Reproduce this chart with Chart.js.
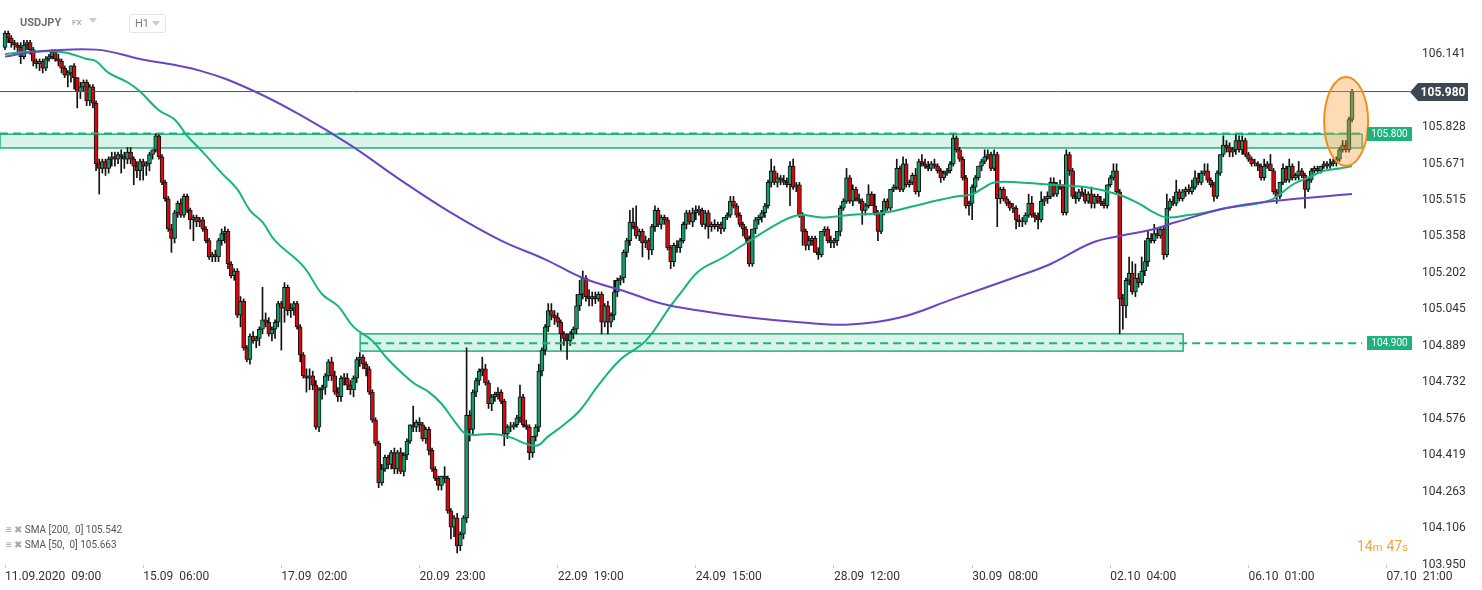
<!DOCTYPE html>
<html><head><meta charset="utf-8">
<script src="https://cdn.jsdelivr.net/npm/chart.js@4.4.0/dist/chart.umd.min.js"></script>
<style>
html,body{margin:0;padding:0;background:#fff;}
#wrap{position:relative;width:1482px;height:590px;overflow:hidden;font-family:Roboto,"Open Sans",sans-serif;}
#c{position:absolute;left:0;top:0;}
.ov{position:absolute;white-space:nowrap;pointer-events:none;line-height:1;}
</style></head><body>
<div id="wrap">
<canvas id="c" width="1482" height="590"></canvas>
<div class="ov" style="left:20px;top:17px;font-size:11px;font-weight:700;color:#6d7075;">USDJPY</div>
<div class="ov" style="left:72px;top:19px;font-size:8px;font-weight:700;color:#a8b2bc;">FX</div>
<div class="ov" style="left:89px;top:18px;width:0;height:0;border-left:4px solid transparent;border-right:4px solid transparent;border-top:5px solid #c8cdd2;"></div>
<div class="ov" style="left:129px;top:14px;width:35px;height:17px;border:1px solid #e2e5e9;border-radius:3px;"></div>
<div class="ov" style="left:135px;top:18px;font-size:11px;color:#7b7f84;">H1</div>
<div class="ov" style="left:152px;top:21px;width:0;height:0;border-left:4px solid transparent;border-right:4px solid transparent;border-top:5px solid #c8cdd2;"></div>
<div class="ov" style="left:6px;top:525px;font-size:10px;color:#555;"><span style="color:#999">&#8801;</span> <span style="color:#aaa">&#10006;</span> SMA [200,&nbsp; 0] 105.542</div>
<div class="ov" style="left:6px;top:540px;font-size:10px;color:#555;"><span style="color:#999">&#8801;</span> <span style="color:#aaa">&#10006;</span> SMA [50,&nbsp; 0] 105.663</div>
<div class="ov" style="left:1357px;top:538px;color:#f5a431;"><span style="font-size:14px">14</span><span style="font-size:11px">m</span> <span style="font-size:14px">47</span><span style="font-size:11px">s</span></div>
</div>
<script>
// ---- DATA ----
const xTickIdx = [0,44,88,132,176,220,264,308,352,396,440];
const xLabels = ["11.09.2020  09:00","15.09  06:00","17.09  02:00","20.09  23:00","22.09  19:00","24.09  15:00","28.09  12:00","30.09  08:00","02.10  04:00","06.10  01:00","07.10  21:00"];
const yTicks = [106.141,105.828,105.671,105.515,105.358,105.202,105.045,104.889,104.732,104.576,104.419,104.263,104.106,103.950];
const lastPrice = 105.980;
const levels = [105.800, 104.900];
const zoneFrom = [-1.6, 113.1];
const zoneTo = [432.2, 375.2];
const zoneHi = [105.797, 104.940];
const zoneLo = [105.738, 104.866];
// candles [open, high, low, close], H1
const candles = [
[106.17,106.24,106.16,106.23],[106.23,106.24,106.19,106.21],[106.21,106.22,106.17,106.19],[106.19,106.20,106.16,106.18],
[106.18,106.19,106.15,106.17],[106.17,106.19,106.10,106.13],[106.13,106.20,106.12,106.18],[106.18,106.20,106.16,106.19],
[106.19,106.20,106.14,106.16],[106.16,106.17,106.09,106.11],[106.11,106.12,106.08,106.10],[106.10,106.12,106.07,106.11],
[106.11,106.12,106.06,106.08],[106.08,106.13,106.07,106.12],[106.12,106.14,106.11,106.13],[106.13,106.16,106.12,106.15],
[106.15,106.16,106.11,106.12],[106.12,106.14,106.09,106.11],[106.11,106.12,106.06,106.08],[106.08,106.09,106.04,106.05],
[106.05,106.07,106.00,106.06],[106.06,106.09,106.02,106.09],[106.09,106.10,105.99,106.04],[106.04,106.04,105.91,105.98],
[105.98,106.02,105.95,106.00],[106.00,106.03,105.98,106.02],[106.02,106.03,105.92,105.94],[105.94,106.01,105.92,106.00],
[106.00,106.01,105.91,105.93],[105.93,105.94,105.64,105.67],[105.67,105.69,105.54,105.65],[105.65,105.69,105.63,105.68],
[105.68,105.69,105.62,105.65],[105.65,105.70,105.63,105.69],[105.69,105.72,105.66,105.70],[105.70,105.72,105.66,105.69],
[105.69,105.72,105.67,105.71],[105.71,105.73,105.63,105.70],[105.70,105.72,105.65,105.69],[105.69,105.74,105.67,105.72],
[105.72,105.74,105.67,105.69],[105.69,105.70,105.58,105.66],[105.66,105.68,105.61,105.64],[105.64,105.69,105.60,105.68],
[105.68,105.69,105.60,105.66],[105.66,105.68,105.62,105.67],[105.67,105.72,105.64,105.71],[105.71,105.73,105.69,105.73],
[105.73,105.80,105.72,105.79],[105.79,105.80,105.69,105.70],[105.70,105.71,105.58,105.59],[105.59,105.60,105.51,105.52],
[105.52,105.53,105.38,105.39],[105.39,105.41,105.29,105.35],[105.35,105.47,105.33,105.46],[105.46,105.51,105.44,105.50],
[105.50,105.52,105.44,105.45],[105.45,105.54,105.44,105.53],[105.53,105.54,105.46,105.47],[105.47,105.48,105.39,105.43],
[105.43,105.45,105.34,105.44],[105.44,105.45,105.40,105.42],[105.42,105.44,105.40,105.43],[105.43,105.44,105.38,105.39],
[105.39,105.40,105.33,105.34],[105.34,105.35,105.26,105.27],[105.27,105.29,105.25,105.28],[105.28,105.30,105.25,105.27],
[105.27,105.35,105.25,105.34],[105.34,105.39,105.32,105.37],[105.37,105.40,105.33,105.38],[105.38,105.39,105.22,105.24],
[105.24,105.25,105.18,105.19],[105.19,105.22,105.17,105.21],[105.21,105.22,105.01,105.02],[105.02,105.10,104.97,105.08],
[105.08,105.09,104.87,104.88],[104.88,104.89,104.82,104.83],[104.83,104.94,104.81,104.93],[104.93,104.95,104.90,104.91],
[104.91,104.93,104.88,104.92],[104.92,104.97,104.89,104.96],[104.96,105.14,104.94,105.00],[105.00,105.03,104.97,104.99],
[104.99,105.01,104.93,104.94],[104.94,104.97,104.91,104.96],[104.96,105.00,104.92,104.99],[104.99,105.08,104.97,105.07],
[105.07,105.08,104.87,105.05],[105.05,105.16,104.99,105.14],[105.14,105.15,105.02,105.04],[105.04,105.07,105.01,105.05],
[105.05,105.08,105.02,105.07],[105.07,105.08,104.96,104.97],[104.97,104.98,104.82,104.85],[104.85,104.86,104.75,104.76],
[104.76,104.79,104.69,104.75],[104.75,104.79,104.70,104.76],[104.76,104.78,104.70,104.72],[104.72,104.74,104.53,104.54],
[104.54,104.71,104.52,104.70],[104.70,104.72,104.66,104.71],[104.71,104.77,104.68,104.76],[104.76,104.83,104.74,104.82],
[104.82,104.84,104.74,104.76],[104.76,104.78,104.68,104.69],[104.69,104.71,104.65,104.67],[104.67,104.76,104.65,104.75],
[104.75,104.77,104.72,104.75],[104.75,104.77,104.70,104.72],[104.72,104.74,104.68,104.70],[104.70,104.76,104.67,104.75],
[104.75,104.84,104.73,104.83],[104.83,104.86,104.80,104.84],[104.84,104.85,104.79,104.81],[104.81,104.82,104.76,104.79],
[104.79,104.80,104.68,104.69],[104.69,104.70,104.56,104.57],[104.57,104.58,104.46,104.47],[104.47,104.48,104.28,104.30],
[104.30,104.38,104.29,104.36],[104.36,104.42,104.35,104.41],[104.41,104.42,104.36,104.38],[104.38,104.44,104.36,104.43],
[104.43,104.45,104.34,104.36],[104.36,104.44,104.34,104.43],[104.43,104.45,104.34,104.35],[104.35,104.43,104.33,104.42],
[104.42,104.49,104.40,104.48],[104.48,104.55,104.47,104.55],[104.55,104.63,104.52,104.54],[104.54,104.57,104.52,104.56],
[104.56,104.58,104.52,104.55],[104.55,104.56,104.48,104.49],[104.49,104.54,104.47,104.53],[104.53,104.54,104.42,104.44],
[104.44,104.45,104.35,104.36],[104.36,104.37,104.31,104.32],[104.32,104.33,104.27,104.29],[104.29,104.33,104.27,104.33],
[104.33,104.37,104.30,104.32],[104.32,104.33,104.17,104.18],[104.18,104.19,104.06,104.11],[104.11,104.16,104.07,104.15],
[104.15,104.17,104.00,104.03],[104.03,104.09,104.01,104.08],[104.08,104.16,104.06,104.15],[104.15,104.88,104.13,104.59],
[104.59,104.61,104.48,104.53],[104.53,104.70,104.51,104.69],[104.69,104.75,104.67,104.74],[104.74,104.79,104.72,104.78],
[104.78,104.84,104.76,104.79],[104.79,104.81,104.72,104.73],[104.73,104.74,104.62,104.64],[104.64,104.68,104.61,104.67],
[104.67,104.69,104.65,104.68],[104.68,104.71,104.66,104.69],[104.69,104.70,104.64,104.65],[104.65,104.66,104.46,104.51],
[104.51,104.55,104.49,104.54],[104.54,104.56,104.52,104.54],[104.54,104.56,104.53,104.55],[104.55,104.59,104.54,104.58],
[104.58,104.72,104.56,104.67],[104.67,104.68,104.54,104.55],[104.55,104.57,104.53,104.54],[104.54,104.55,104.40,104.43],
[104.43,104.50,104.41,104.50],[104.50,104.55,104.48,104.54],[104.54,104.81,104.52,104.78],[104.78,104.88,104.76,104.87],
[104.87,104.98,104.85,104.97],[104.97,105.07,104.95,105.04],[105.04,105.07,105.00,105.02],[105.02,105.04,104.98,105.01],
[105.01,105.03,104.97,104.99],[104.99,105.00,104.87,104.94],[104.94,104.95,104.89,104.92],[104.92,104.94,104.83,104.91],
[104.91,104.95,104.89,104.94],[104.94,104.97,104.92,104.96],[104.96,105.11,104.94,105.06],[105.06,105.17,105.04,105.11],
[105.11,105.21,105.09,105.18],[105.18,105.19,105.08,105.10],[105.10,105.13,105.06,105.09],[105.09,105.12,105.06,105.10],
[105.10,105.12,105.07,105.09],[105.09,105.12,105.08,105.11],[105.11,105.12,104.94,104.99],[104.99,105.07,104.97,105.06],
[105.06,105.08,104.94,104.99],[104.99,105.03,104.97,105.02],[105.02,105.17,105.00,105.12],[105.12,105.18,105.10,105.17],
[105.17,105.19,105.15,105.18],[105.18,105.30,105.16,105.29],[105.29,105.35,105.27,105.34],[105.34,105.47,105.32,105.42],
[105.42,105.48,105.39,105.40],[105.40,105.49,105.35,105.36],[105.36,105.39,105.34,105.38],[105.38,105.39,105.27,105.33],
[105.33,105.36,105.31,105.34],[105.34,105.35,105.26,105.30],[105.30,105.41,105.28,105.40],[105.40,105.49,105.38,105.47],
[105.47,105.48,105.40,105.41],[105.41,105.45,105.39,105.44],[105.44,105.45,105.41,105.43],[105.43,105.44,105.30,105.31],
[105.31,105.32,105.22,105.25],[105.25,105.33,105.23,105.32],[105.32,105.34,105.29,105.31],[105.31,105.35,105.29,105.34],
[105.34,105.42,105.33,105.41],[105.41,105.47,105.39,105.46],[105.46,105.47,105.41,105.42],[105.42,105.48,105.40,105.46],
[105.46,105.49,105.43,105.47],[105.47,105.49,105.45,105.47],[105.47,105.48,105.40,105.41],[105.41,105.47,105.39,105.46],
[105.46,105.47,105.35,105.40],[105.40,105.42,105.38,105.41],[105.41,105.43,105.39,105.40],[105.40,105.42,105.38,105.41],
[105.41,105.42,105.37,105.39],[105.39,105.44,105.38,105.44],[105.44,105.46,105.43,105.45],[105.45,105.53,105.44,105.51],
[105.51,105.53,105.48,105.49],[105.49,105.50,105.44,105.45],[105.45,105.46,105.40,105.41],[105.41,105.42,105.36,105.39],
[105.39,105.40,105.33,105.35],[105.35,105.36,105.23,105.24],[105.24,105.39,105.23,105.39],[105.39,105.44,105.37,105.43],
[105.43,105.45,105.41,105.44],[105.44,105.47,105.42,105.46],[105.46,105.50,105.44,105.49],[105.49,105.60,105.48,105.59],
[105.59,105.69,105.57,105.64],[105.64,105.66,105.58,105.59],[105.59,105.63,105.57,105.61],[105.61,105.62,105.58,105.60],
[105.60,105.62,105.58,105.59],[105.59,105.61,105.57,105.58],[105.58,105.68,105.49,105.66],[105.66,105.69,105.56,105.57],
[105.57,105.59,105.55,105.58],[105.58,105.59,105.44,105.45],[105.45,105.46,105.32,105.38],[105.38,105.39,105.30,105.32],
[105.32,105.36,105.30,105.34],[105.34,105.36,105.32,105.35],[105.35,105.36,105.29,105.29],[105.29,105.31,105.26,105.28],
[105.28,105.38,105.27,105.38],[105.38,105.40,105.36,105.39],[105.39,105.40,105.33,105.34],[105.34,105.36,105.31,105.33],
[105.33,105.35,105.31,105.34],[105.34,105.38,105.32,105.38],[105.38,105.49,105.36,105.48],[105.48,105.52,105.47,105.51],
[105.51,105.65,105.50,105.61],[105.61,105.62,105.50,105.51],[105.51,105.58,105.49,105.56],[105.56,105.57,105.51,105.52],
[105.52,105.54,105.50,105.51],[105.51,105.52,105.41,105.47],[105.47,105.50,105.45,105.49],[105.49,105.58,105.48,105.54],
[105.54,105.55,105.49,105.49],[105.49,105.54,105.45,105.46],[105.46,105.47,105.34,105.38],[105.38,105.47,105.37,105.46],
[105.46,105.52,105.45,105.51],[105.51,105.52,105.47,105.48],[105.48,105.56,105.47,105.56],[105.56,105.58,105.55,105.57],
[105.57,105.69,105.56,105.65],[105.65,105.66,105.55,105.56],[105.56,105.70,105.55,105.67],[105.67,105.69,105.57,105.58],
[105.58,105.60,105.57,105.59],[105.59,105.63,105.58,105.62],[105.62,105.65,105.54,105.55],[105.55,105.69,105.53,105.68],
[105.68,105.71,105.66,105.67],[105.67,105.69,105.65,105.66],[105.66,105.68,105.64,105.65],[105.65,105.68,105.64,105.67],
[105.67,105.69,105.65,105.66],[105.66,105.67,105.63,105.64],[105.64,105.65,105.59,105.61],[105.61,105.64,105.60,105.63],
[105.63,105.65,105.62,105.64],[105.64,105.68,105.63,105.67],[105.67,105.80,105.66,105.78],[105.78,105.79,105.72,105.73],
[105.73,105.74,105.68,105.69],[105.69,105.70,105.60,105.61],[105.61,105.62,105.48,105.49],[105.49,105.51,105.45,105.50],
[105.50,105.58,105.43,105.57],[105.57,105.62,105.55,105.61],[105.61,105.66,105.60,105.66],[105.66,105.69,105.64,105.68],
[105.68,105.73,105.67,105.70],[105.70,105.73,105.69,105.71],[105.71,105.72,105.64,105.65],[105.65,105.73,105.64,105.71],
[105.71,105.72,105.40,105.52],[105.52,105.57,105.50,105.56],[105.56,105.57,105.51,105.52],[105.52,105.53,105.49,105.50],
[105.50,105.51,105.47,105.48],[105.48,105.50,105.46,105.48],[105.48,105.49,105.39,105.43],[105.43,105.45,105.40,105.42],
[105.42,105.44,105.40,105.42],[105.42,105.46,105.41,105.45],[105.45,105.54,105.44,105.50],[105.50,105.53,105.44,105.45],
[105.45,105.46,105.42,105.44],[105.44,105.46,105.39,105.43],[105.43,105.55,105.42,105.51],[105.51,105.53,105.49,105.52],
[105.52,105.55,105.50,105.53],[105.53,105.61,105.52,105.59],[105.59,105.61,105.53,105.54],[105.54,105.59,105.53,105.58],
[105.58,105.60,105.56,105.57],[105.57,105.58,105.45,105.46],[105.46,105.73,105.45,105.71],[105.71,105.72,105.62,105.64],
[105.64,105.65,105.52,105.53],[105.53,105.55,105.50,105.52],[105.52,105.56,105.51,105.55],[105.55,105.57,105.53,105.54],
[105.54,105.56,105.50,105.51],[105.51,105.55,105.50,105.54],[105.54,105.57,105.48,105.50],[105.50,105.54,105.48,105.53],
[105.53,105.54,105.50,105.51],[105.51,105.53,105.49,105.50],[105.50,105.52,105.48,105.49],[105.49,105.58,105.48,105.58],
[105.58,105.62,105.57,105.61],[105.61,105.67,105.60,105.64],[105.64,105.67,105.54,105.55],[105.55,105.56,104.94,105.09],
[105.09,105.11,104.96,105.06],[105.06,105.18,105.01,105.17],[105.17,105.27,105.15,105.20],[105.20,105.25,105.11,105.12],
[105.12,105.24,105.10,105.18],[105.18,105.20,105.14,105.16],[105.16,105.27,105.15,105.21],[105.21,105.34,105.19,105.25],
[105.25,105.38,105.23,105.35],[105.35,105.37,105.33,105.34],[105.34,105.41,105.33,105.37],[105.37,105.39,105.35,105.36],
[105.36,105.40,105.35,105.39],[105.39,105.40,105.26,105.28],[105.28,105.54,105.27,105.48],[105.48,105.52,105.47,105.51],
[105.51,105.53,105.49,105.50],[105.50,105.60,105.49,105.55],[105.55,105.56,105.51,105.52],[105.52,105.56,105.51,105.55],
[105.55,105.57,105.53,105.56],[105.56,105.58,105.54,105.55],[105.55,105.60,105.54,105.57],[105.57,105.64,105.56,105.61],
[105.61,105.63,105.58,105.59],[105.59,105.64,105.58,105.63],[105.63,105.67,105.62,105.64],[105.64,105.67,105.59,105.60],
[105.60,105.61,105.57,105.58],[105.58,105.59,105.51,105.53],[105.53,105.64,105.52,105.63],[105.63,105.71,105.62,105.71],
[105.71,105.79,105.70,105.75],[105.75,105.77,105.72,105.74],[105.74,105.76,105.70,105.72],[105.72,105.74,105.70,105.73],
[105.73,105.80,105.71,105.77],[105.77,105.79,105.72,105.73],[105.73,105.79,105.71,105.77],[105.77,105.78,105.70,105.71],
[105.71,105.72,105.68,105.69],[105.69,105.70,105.66,105.67],[105.67,105.69,105.66,105.67],[105.67,105.68,105.64,105.66],
[105.66,105.67,105.60,105.61],[105.61,105.69,105.60,105.66],[105.66,105.68,105.65,105.67],[105.67,105.71,105.64,105.64],
[105.64,105.65,105.54,105.55],[105.55,105.56,105.50,105.53],[105.53,105.59,105.52,105.59],[105.59,105.67,105.58,105.65],
[105.65,105.66,105.59,105.60],[105.60,105.69,105.59,105.66],[105.66,105.67,105.60,105.61],[105.61,105.63,105.60,105.62],
[105.62,105.68,105.60,105.64],[105.64,105.65,105.61,105.62],[105.62,105.63,105.48,105.56],[105.56,105.61,105.55,105.60],
[105.60,105.65,105.59,105.64],[105.64,105.66,105.63,105.65],[105.65,105.66,105.63,105.64],[105.64,105.66,105.63,105.66],
[105.66,105.68,105.65,105.67],[105.67,105.68,105.65,105.66],[105.66,105.69,105.65,105.67],[105.67,105.69,105.66,105.68],
[105.68,105.70,105.66,105.69],[105.69,105.74,105.68,105.73],[105.73,105.77,105.72,105.75],[105.75,105.77,105.72,105.73],
[105.73,105.87,105.72,105.86],[105.86,105.99,105.85,105.98]
];
// SMA lines (candle index, price)
const sma200Idx = [0,9,29,43,62,78,94,110,126,142,158,172,184,198,209,221,237,253,269,285,302,321,333,346,355,366,373,389,404,429];
const sma200 = [106.13,106.15,106.16,106.12,106.07,105.99,105.88,105.75,105.60,105.46,105.34,105.26,105.18,105.12,105.07,105.04,105.01,104.99,104.98,105.01,105.09,105.18,105.24,105.33,105.36,105.39,105.42,105.48,105.51,105.54];
const sma50Idx = [0,6,18,26,29,33,39,43,49,54,58,63,69,74,78,82,86,95,101,106,111,117,122,130,135,139,144,147,155,160,169,173,178,183,189,196,204,212,216,221,229,236,247,253,260,269,280,290,296,303,308,312,315,323,333,344,354,361,366,370,377,382,389,399,404,410,415,420,425,429];
const sma50 = [106.14,106.15,106.15,106.12,106.11,106.06,106.02,105.98,105.90,105.86,105.79,105.72,105.63,105.56,105.47,105.42,105.34,105.23,105.11,105.06,104.97,104.91,104.83,104.73,104.69,104.64,104.55,104.51,104.51,104.50,104.46,104.50,104.55,104.61,104.72,104.83,104.91,105.06,105.13,105.21,105.27,105.33,105.42,105.45,105.44,105.45,105.46,105.49,105.51,105.53,105.54,105.57,105.59,105.59,105.58,105.57,105.54,105.50,105.46,105.44,105.45,105.46,105.48,105.50,105.52,105.58,105.61,105.64,105.65,105.66];
const ellipseCenterIdx = 427.1, ellipseCenterPrice = 105.852, ellipseIdxRadius = 7, ellipsePriceRadius = 0.191;

// ---- CHART ----
const X_MIN = -1.6, X_MAX = 447.45;
const GREEN = '#119c6b', RED = '#d4080f', ZONE = '#1fb27d';
const wick = candles.map((c,i)=>({x:i, y:[c[2], c[1]]}));
const body = candles.map((c,i)=>({x:i, y:[c[0], c[3]]}));
const bodyColors = candles.map(c => c[3] >= c[0] ? GREEN : RED);

const overlay = {
  id: 'overlay',
  beforeDatasetsDraw(chart) {
    const {ctx, scales:{x, y}} = chart;
    ctx.save();
    for (let k = 0; k < zoneFrom.length; k++) {
      const x0 = x.getPixelForValue(zoneFrom[k]), x1 = x.getPixelForValue(zoneTo[k]);
      const y0 = y.getPixelForValue(zoneHi[k]), y1 = y.getPixelForValue(zoneLo[k]);
      ctx.fillStyle = 'rgba(40,190,130,0.18)';
      ctx.fillRect(x0, y0, x1 - x0, y1 - y0);
      ctx.strokeStyle = ZONE; ctx.lineWidth = 1.5;
      ctx.strokeRect(x0, y0, x1 - x0, y1 - y0);
    }
    ctx.restore();
  },
  afterDatasetsDraw(chart) {
    const {ctx, scales:{x, y}} = chart;
    ctx.save();
    const cx = x.getPixelForValue(ellipseCenterIdx), cy = y.getPixelForValue(ellipseCenterPrice);
    const rx = x.getPixelForValue(ellipseCenterIdx + ellipseIdxRadius) - cx;
    const ry = cy - y.getPixelForValue(ellipseCenterPrice + ellipsePriceRadius);
    ctx.beginPath(); ctx.ellipse(cx, cy, rx, ry, 0, 0, Math.PI*2);
    ctx.fillStyle = 'rgba(250,160,60,0.38)'; ctx.fill();
    ctx.strokeStyle = '#f28d1c'; ctx.lineWidth = 2; ctx.stroke();
    ctx.restore();
  },
  afterDraw(chart) {
    const {ctx, scales:{y}} = chart;
    ctx.save();
    ctx.textAlign = 'center'; ctx.textBaseline = 'middle';
    levels.forEach(v => {
      const py = Math.round(y.getPixelForValue(v));
      ctx.fillStyle = ZONE; ctx.fillRect(1367, py - 7, 45, 14);
      ctx.fillStyle = '#fff'; ctx.font = '10px Roboto, sans-serif';
      ctx.fillText(v.toFixed(3), 1389.5, py + 0.5);
    });
    const py = Math.round(y.getPixelForValue(lastPrice));
    ctx.fillStyle = '#3e4852';
    ctx.beginPath(); ctx.moveTo(1410, py); ctx.lineTo(1418, py - 9); ctx.lineTo(1468, py - 9);
    ctx.lineTo(1468, py + 9); ctx.lineTo(1418, py + 9); ctx.closePath(); ctx.fill();
    ctx.fillStyle = '#fff'; ctx.font = 'bold 12px Roboto, sans-serif';
    ctx.fillText(lastPrice.toFixed(3), 1443, py + 0.5);
    ctx.restore();
  }
};

new Chart(document.getElementById('c'), {
  type: 'bar',
  data: { datasets: [
    {type:'line', label:'SMA 200', data: sma200Idx.map((v,k)=>({x:v, y:sma200[k]})), borderColor:'#6b44c5', borderWidth:2, pointRadius:0, tension:0.4, order:-5},
    {type:'line', label:'SMA 50', data: sma50Idx.map((v,k)=>({x:v, y:sma50[k]})), borderColor:'#17b47c', borderWidth:2, pointRadius:0, tension:0.4, order:-4},
    {type:'line', label:'last', data:[{x:X_MIN, y:lastPrice},{x:X_MAX, y:lastPrice}], borderColor:'#4a545e', borderWidth:1, pointRadius:0, order:-3},
    {type:'line', label:'lvl1', data:[{x:zoneFrom[0], y:levels[0]},{x:zoneTo[0], y:levels[0]}], borderColor:ZONE, borderWidth:2, borderDash:[8,5], pointRadius:0, order:-2},
    {type:'line', label:'lvl2', data:[{x:zoneFrom[1], y:levels[1]},{x:zoneTo[0], y:levels[1]}], borderColor:ZONE, borderWidth:2, borderDash:[8,5], pointRadius:0, order:-1},
    {label:'body', data: body, backgroundColor: bodyColors, borderColor:'#111', borderWidth:1, borderSkipped:false, barThickness:4, minBarLength:1, grouped:false, order:1},
    {label:'wick', data: wick, backgroundColor:'#111', borderWidth:0, barThickness:1, grouped:false, order:2}
  ]},
  options: {
    responsive: false, animation: false, events: [],
    layout: {padding: 0},
    plugins: {legend:{display:false}, tooltip:{enabled:false}},
    scales: {
      x: {
        type:'linear', min:X_MIN, max:X_MAX, offset:false,
        grid:{display:true, drawOnChartArea:false, drawTicks:true, tickLength:3, color:'#c9c9c9', offset:false},
        border:{display:false},
        afterBuildTicks: s => { s.ticks = xTickIdx.map(v => ({value:v})); },
        afterFit: s => { s.height = 25; s.paddingLeft = 0; s.paddingRight = 0; },
        ticks:{autoSkip:false, maxRotation:0, align:'start', padding:2, color:'#333', font:{family:'Roboto', size:12},
          callback:(v, i) => xLabels[i]}
      },
      y: {
        position:'right', min:103.948, max:106.373, beginAtZero:false,
        grid:{display:false, drawTicks:false}, border:{display:false},
        afterBuildTicks: s => { s.ticks = yTicks.map(v => ({value:v})); },
        afterFit: s => { s.width = 72; s.paddingTop = 0; s.paddingBottom = 0; },
        ticks:{padding:12, color:'#333', font:{family:'Roboto', size:12}, callback: v => Number(v).toFixed(3)}
      }
    }
  },
  plugins: [overlay]
});
</script>
</body></html>
